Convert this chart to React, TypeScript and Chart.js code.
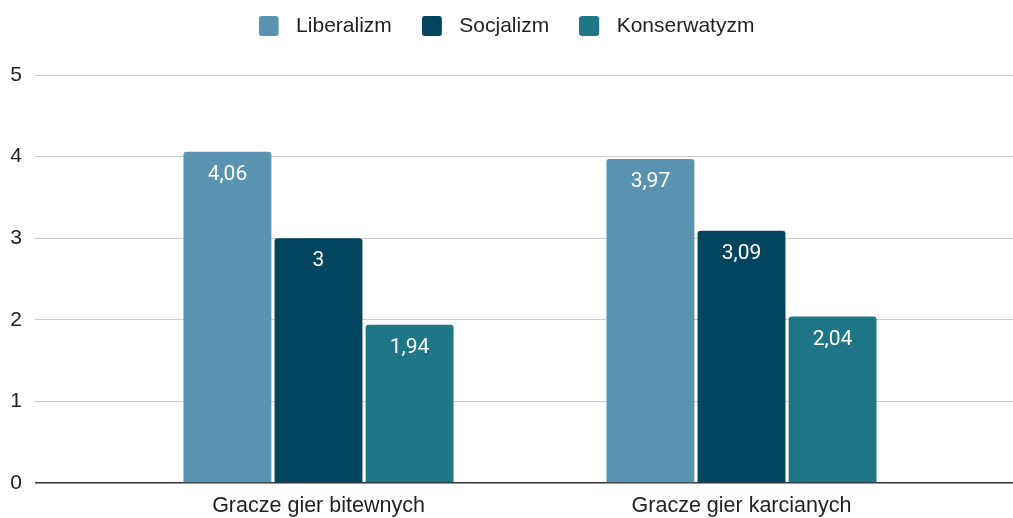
import React, { useEffect, useRef } from "react";
import { Chart, registerables } from "chart.js";

Chart.register(...registerables);

const categories = ["Gracze gier bitewnych", "Gracze gier karcianych"];
const seriesNames = ["Liberalizm", "Socjalizm", "Konserwatyzm"];
const liberalizm = [4.06, 3.97];
const socjalizm = [3, 3.09];
const konserwatyzm = [1.94, 2.04];
const seriesColors = ["#5a93b0", "#03455f", "#1e7686"];
const yTicks = [0, 1, 2, 3, 4, 5];

const SANS = "'Liberation Sans', Arial, sans-serif";
const ROBOTO = "Roboto, 'Liberation Sans', sans-serif";

const fmt = (v: number) => String(v).replace(".", ",");

function makeMarker(color: string): HTMLCanvasElement {
  const c = document.createElement("canvas");
  c.width = 27;
  c.height = 20;
  const g = c.getContext("2d")!;
  g.fillStyle = color;
  g.beginPath();
  const r = 3;
  g.moveTo(r, 0);
  g.lineTo(20 - r, 0);
  g.quadraticCurveTo(20, 0, 20, r);
  g.lineTo(20, 20 - r);
  g.quadraticCurveTo(20, 20, 20 - r, 20);
  g.lineTo(r, 20);
  g.quadraticCurveTo(0, 20, 0, 20 - r);
  g.lineTo(0, r);
  g.quadraticCurveTo(0, 0, r, 0);
  g.closePath();
  g.fill();
  return c;
}

const valueLabels = {
  id: "valueLabels",
  afterDatasetsDraw(chart: any) {
    const ctx = chart.ctx;
    ctx.save();
    ctx.fillStyle = "#ffffff";
    ctx.font = `21px ${ROBOTO}`;
    ctx.textAlign = "center";
    ctx.textBaseline = "middle";
    chart.data.datasets.forEach((ds: any, i: number) => {
      const meta = chart.getDatasetMeta(i);
      meta.data.forEach((bar: any, j: number) => {
        ctx.fillText(fmt(ds.data[j]), bar.x, bar.y + 23);
      });
    });
    ctx.restore();
  },
};

const legendFit = {
  id: "legendFit",
  afterInit(chart: any) {
    const legend = chart.legend;
    if (!legend) return;
    const orig = legend.fit;
    legend.fit = function () {
      orig.call(this);
      this.height = 89.5;
    };
  },
};

export default function App() {
  const ref = useRef<HTMLCanvasElement | null>(null);
  useEffect(() => {
    document.body.style.margin = "0";
    const allData = [liberalizm, socjalizm, konserwatyzm];
    const markers = seriesColors.map(makeMarker);
    const gridColor = (c: any) => (c.tick && c.tick.value === 0 ? "#333333" : "#cccccc");
    const gridWidth = (c: any) => (c.tick && c.tick.value === 0 ? 1.5 : 1);
    const chart = new Chart(ref.current!, {
      type: "bar",
      data: {
        labels: categories,
        datasets: seriesNames.map((name, i) => ({
          label: name,
          data: allData[i],
          backgroundColor: seriesColors[i],
          borderRadius: { topLeft: 3, topRight: 3, bottomLeft: 0, bottomRight: 0 },
          borderSkipped: false,
          categoryPercentage: 0.646,
          barPercentage: 0.965,
        })),
      },
      options: {
        animation: false,
        responsive: false,
        maintainAspectRatio: false,
        layout: { padding: { top: -14.5, left: 0, right: 0, bottom: 0 } },
        plugins: {
          tooltip: { enabled: false },
          legend: {
            position: "top",
            align: "center",
            labels: {
              usePointStyle: true,
              pointStyleWidth: 27,
              boxWidth: 27,
              boxHeight: 20,
              padding: 30,
              color: "#222222",
              font: { family: SANS, size: 21 },
              generateLabels: (ch: any) => {
                const items = (Chart as any).defaults.plugins.legend.labels.generateLabels(ch);
                return items.map((it: any, i: number) => ({ ...it, pointStyle: markers[i] }));
              },
            },
          },
        },
        scales: {
          x: {
            grid: { display: false, drawTicks: false },
            border: { display: false },
            afterFit: (scale: any) => {
              scale.height = 35;
            },
            ticks: {
              color: "#222222",
              padding: 10,
              font: { family: SANS, size: 21.5 },
            },
          },
          y: {
            position: "left",
            min: 0,
            max: 5,
            afterBuildTicks: (scale: any) => {
              scale.ticks = yTicks.map((v) => ({ value: v }));
            },
            afterFit: (scale: any) => {
              scale.width = 107;
            },
            border: { display: false },
            grid: {
              color: gridColor,
              lineWidth: gridWidth,
              tickLength: 72,
            },
            ticks: {
              color: "#222222",
              padding: 13,
              font: { family: SANS, size: 21 },
            },
          },
          yRight: {
            position: "right",
            min: 0,
            max: 5,
            afterBuildTicks: (scale: any) => {
              scale.ticks = yTicks.map((v) => ({ value: v }));
            },
            afterFit: (scale: any) => {
              scale.width = 60;
            },
            border: { display: false },
            grid: {
              drawOnChartArea: false,
              color: gridColor,
              lineWidth: gridWidth,
              tickLength: 60,
            },
            ticks: { display: false },
          },
        },
      },
      plugins: [valueLabels, legendFit],
    });
    return () => chart.destroy();
  }, []);
  return (
    <div style={{ position: "fixed", left: 0, top: 0, width: 1013, height: 518, background: "#fff" }}>
      <canvas ref={ref} width={1013} height={518} style={{ width: 1013, height: 518, display: "block" }} />
    </div>
  );
}
